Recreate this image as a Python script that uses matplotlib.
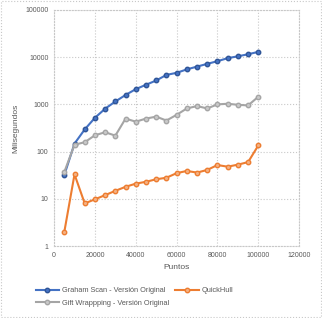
import matplotlib
matplotlib.use("Agg")
import matplotlib.pyplot as plt
from matplotlib.patches import Rectangle

# Data
puntos = [5000, 10000, 15000, 20000, 25000, 30000, 35000, 40000, 45000, 50000,
          55000, 60000, 65000, 70000, 75000, 80000, 85000, 90000, 95000, 100000]
graham = [32, 148, 295, 520, 810, 1150, 1580, 2100, 2600, 3200,
          4200, 4650, 5500, 6300, 7200, 8200, 9500, 10400, 11500, 12900]
quickhull = [2.0, 33, 8, 9.8, 12, 14.8, 18, 21, 23, 26,
             28, 35, 39, 36, 41, 52, 48, 53, 60, 135]
gift = [37, 140, 158, 222, 257, 218, 500, 430, 500, 550,
        455, 600, 820, 920, 820, 1000, 1030, 980, 950, 1450]

plt.rcParams['font.family'] = ['Liberation Sans', 'DejaVu Sans']
txt = '#595959'

fig = plt.figure(figsize=(3.22, 3.18), dpi=100)
ax = fig.add_axes([0.168, 0.226, 0.761, 0.743])

l1, = ax.plot(puntos, graham, color='#4472C4', marker='o', markersize=3.2,
              markerfacecolor='#4472C4', markeredgecolor='#2F5597', linewidth=1.5,
              label='Graham Scan - Versión Original')
l2, = ax.plot(puntos, quickhull, color='#ED7D31', marker='o', markersize=3.2,
              markerfacecolor='#F4B183', markeredgecolor='#ED7D31', linewidth=1.5,
              label='QuickHull')
l3, = ax.plot(puntos, gift, color='#A5A5A5', marker='o', markersize=3.2,
              markerfacecolor='#C9C9C9', markeredgecolor='#A5A5A5', linewidth=1.5,
              label='Gift Wrappping - Versión Original')

ax.set_yscale('log')
ax.set_ylim(1, 100000)
ax.set_xlim(0, 120000)
ax.set_xticks(range(0, 120001, 20000))
ax.set_yticks([1, 10, 100, 1000, 10000, 100000])
ax.set_yticklabels(['1', '10', '100', '1000', '10000', '100000'])
ax.minorticks_off()
ax.tick_params(labelsize=5, colors=txt, length=0, pad=4)

ax.grid(True, color='#C8C8C8', linestyle=':', linewidth=0.8)
for s in ax.spines.values():
    s.set_color('#C8C8C8')
    s.set_linestyle(':')
    s.set_linewidth(0.8)

ax.set_xlabel('Puntos', fontsize=6, color=txt, labelpad=4)
ax.set_ylabel('Milisegundos', fontsize=6, color=txt, labelpad=4)

# legend columns fill top-down: col1 = Graham, Gift; col2 = QuickHull
fig.legend([l1, l3, l2], [l1.get_label(), l3.get_label(), l2.get_label()],
           loc='lower left', bbox_to_anchor=(0.09, 0.015), ncol=2, frameon=False,
           fontsize=5.3, labelcolor=txt, handlelength=3.2, columnspacing=0.8,
           handletextpad=0.4, labelspacing=0.7)

# dotted chart border
fig.patches.append(Rectangle((0.002, 0.002), 0.996, 0.996, transform=fig.transFigure,
                             fill=False, edgecolor='#C8C8C8', linestyle=':', linewidth=0.8))

fig.savefig('out.png', dpi=100)
